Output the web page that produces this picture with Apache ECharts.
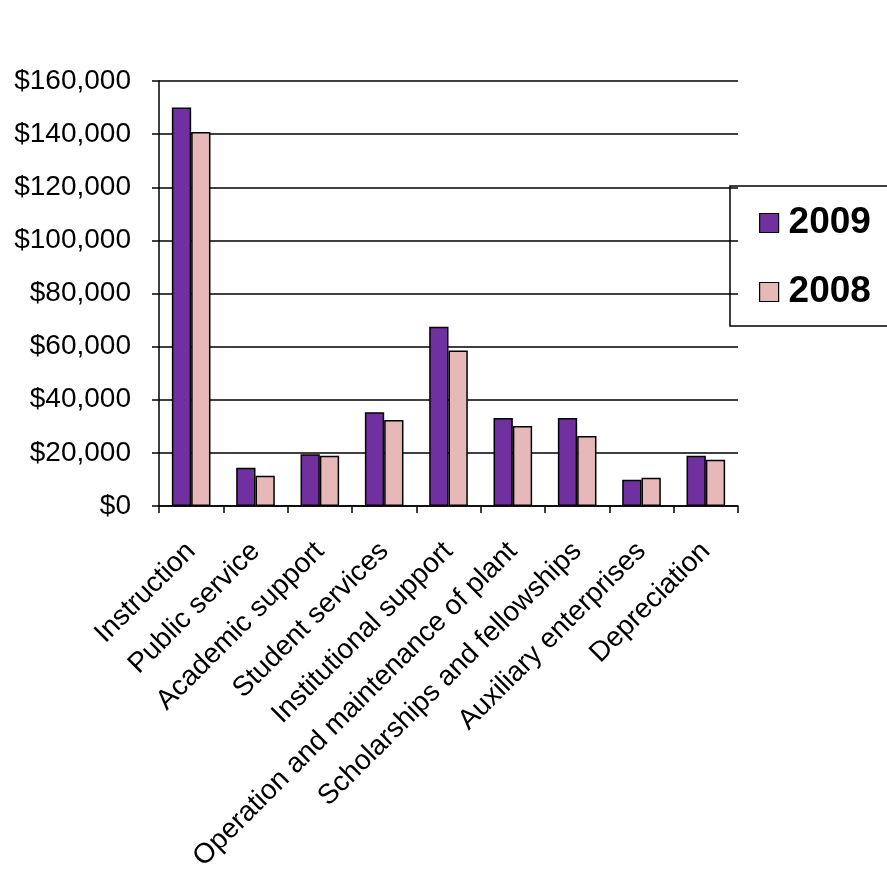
<!DOCTYPE html>
<html>
<head>
<meta charset="utf-8">
<script src="https://cdn.jsdelivr.net/npm/echarts@6/dist/echarts.min.js"></script>
<style>
html,body{margin:0;padding:0;background:#fff;}
#c{width:887px;height:881px;}
</style>
</head>
<body>
<div id="c"></div>
<script>
var categories = ["Instruction","Public service","Academic support","Student services","Institutional support","Operation and maintenance of plant","Scholarships and fellowships","Auxiliary enterprises","Depreciation"];
var values2009 = [150000, 14400, 19500, 35300, 67500, 33100, 33100, 9900, 18900];
var values2008 = [140800, 11400, 18900, 32400, 58500, 30100, 26400, 10600, 17400];
var yTicks = [0, 20000, 40000, 60000, 80000, 100000, 120000, 140000, 160000];

var chart = echarts.init(document.getElementById('c'));
var font = '"Liberation Sans", Arial, sans-serif';
function fmt(v){ return '$' + String(v).replace(/\B(?=(\d{3})+(?!\d))/g, ','); }
chart.setOption({
  animation: false,
  backgroundColor: '#ffffff',
  grid: { left: 159, right: 149, top: 81, bottom: 375, containLabel: false },
  legend: {
    orient: 'vertical',
    left: 730, top: 186,
    padding: [17, 60, 14, 29],
    itemWidth: 19, itemHeight: 19,
    itemGap: 29,
    borderColor: '#000', borderWidth: 1.5,
    icon: 'rect',
    itemStyle: { borderColor: '#000', borderWidth: 1.2 },
    textStyle: { fontFamily: font, fontSize: 37, fontWeight: 'bold', color: '#000', lineHeight: 40, padding: [0,0,0,5] },
    data: ['2009', '2008']
  },
  xAxis: {
    type: 'category',
    data: categories,
    axisLine: { lineStyle: { color: '#000', width: 1.5 } },
    axisTick: { show: true, length: 7, lineStyle: { color: '#000', width: 1.5 } },
    axisLabel: { rotate: 45, interval: 0, margin: 41, fontFamily: font, fontSize: 28, color: '#000' }
  },
  yAxis: {
    type: 'value',
    min: yTicks[0], max: yTicks[yTicks.length-1], interval: 20000,
    axisLine: { show: true, lineStyle: { color: '#000', width: 1.5 } },
    axisTick: { show: true, length: 7, lineStyle: { color: '#000', width: 1.5 } },
    splitLine: { lineStyle: { color: '#000', width: 1.5 } },
    axisLabel: { margin: 28, fontFamily: font, fontSize: 28, color: '#000', formatter: fmt }
  },
  series: [
    { name: '2009', type: 'bar', data: values2009, barGap: '0%', barCategoryGap: '40%',
      itemStyle: { color: '#7030A0', borderColor: '#000', borderWidth: 1.5 } },
    { name: '2008', type: 'bar', data: values2008,
      itemStyle: { color: '#E6B8B7', borderColor: '#000', borderWidth: 1.5 } }
  ]
});
</script>
</body>
</html>
